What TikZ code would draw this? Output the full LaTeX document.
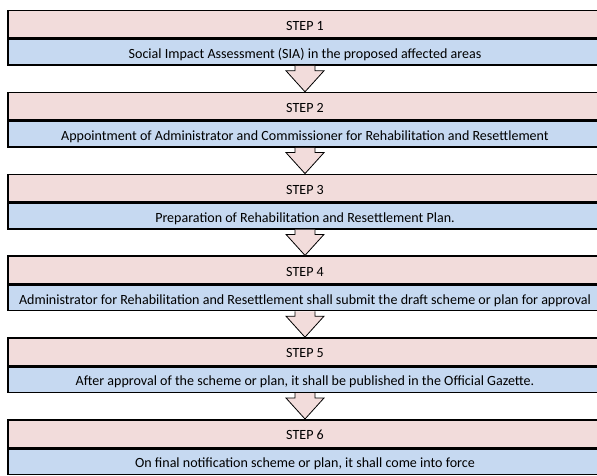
\documentclass[tikz,border=0pt]{standalone}
\usepackage{fontspec}
\setmainfont{Carlito}
\usepackage{tikz}
\usetikzlibrary{calc, positioning}

\definecolor{stepPink}{HTML}{F2DCDB}
\definecolor{stepBlue}{HTML}{C6D9F1}

\tikzset{
    stephead/.style={draw=black, line width=1.5pt, fill=stepPink, minimum width=594pt,
        minimum height=27.5pt, inner sep=0pt, text height=12.5pt, text depth=0pt,
        font=\fontsize{14.05}{16}\selectfont},
    stepbody/.style={draw=black, line width=1.5pt, fill=stepBlue, minimum width=594pt,
        minimum height=25.5pt, inner sep=0pt, text height=12.5pt, text depth=0pt,
        font=\fontsize{14.05}{16}\selectfont},
    blockarrow/.style={draw=black, line width=0.8pt, fill=stepPink, line join=miter}
}

\begin{document}
\begin{tikzpicture}[x=1pt, y=1pt]
    \useasboundingbox (0,0) rectangle (597,-476);
    \clip (0,0) rectangle (597,-476);

    % steps
    \foreach \i/\txt in {
        1/{Social Impact Assessment (SIA) in the proposed affected areas},
        2/{Appointment of Administrator and Commissioner for Rehabilitation and Resettlement},
        3/{Preparation of Rehabilitation and Resettlement Plan.},
        4/{Administrator for Rehabilitation and Resettlement shall submit the draft scheme or plan for approval},
        5/{After approval of the scheme or plan, it shall be published in the Official Gazette.},
        6/{On final notification scheme or plan, it shall come into force}}
    {
        \node[stephead, anchor=north] (h\i) at (305, {-10-(\i-1)*81.8}) {STEP \i};
        \node[stepbody, below=0pt of h\i] (b\i) {\txt};
    }

    % arrows between steps
    \foreach \i [evaluate=\i as \j using int(\i+1)] in {1,...,5} {
        \draw[blockarrow] ([xshift=-10pt]b\i.south) |- ([xshift=-19pt,yshift=21pt]h\j.north)
            -- (h\j.north) -- ([xshift=19pt,yshift=21pt]h\j.north) -| ([xshift=10pt]b\i.south);
    }
\end{tikzpicture}
\end{document}
